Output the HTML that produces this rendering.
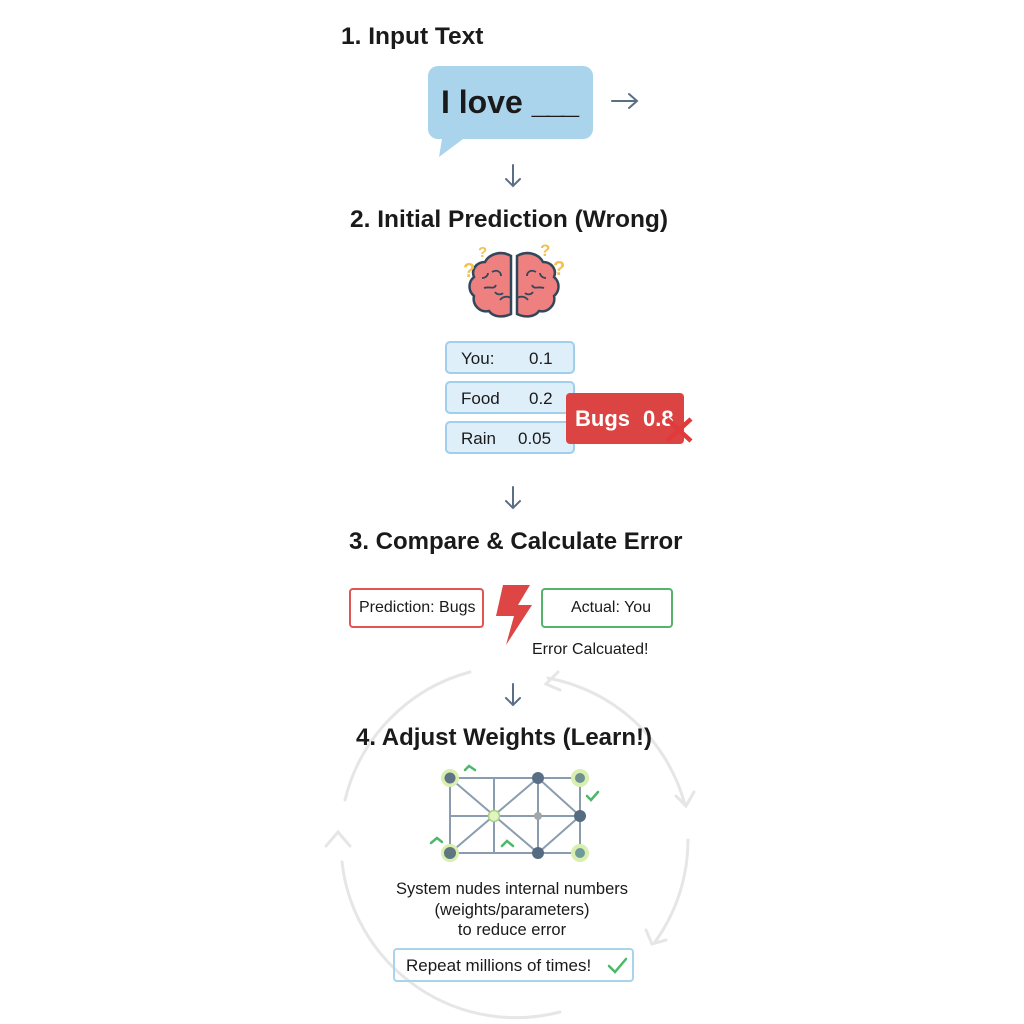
<!DOCTYPE html>
<html><head><meta charset="utf-8"><style>
body{margin:0;width:1024px;height:1024px;background:#fff;position:relative;font-family:"Liberation Sans",sans-serif;color:#1a1a1a;overflow:hidden}
.a{position:absolute}
.h{font-weight:bold;font-size:24.5px;white-space:nowrap}
.pb{position:absolute;left:445px;width:130px;height:33px;background:#deeffa;border:2px solid #9fcfec;border-radius:5px;box-sizing:border-box;font-size:17px}
.pb span{position:absolute;top:6px}
</style></head><body>
<svg class="a" style="left:0;top:0" width="1024" height="1024">
<g fill="none" stroke="#e6e6e6" stroke-width="3" stroke-linecap="round">
<path d="M470 672 A175 175 0 0 0 345 800"/>
<path d="M342 862 A175 175 0 0 0 560 1012"/>
<path d="M655 942 A175 175 0 0 0 688 840"/>
<path d="M685 805 A175 175 0 0 0 548 678"/>
<path d="M326 846 L338 832 L350 846"/>
<path d="M558 672 L546 684 L560 690"/>
<path d="M676 796 L686 806 L694 792"/>
<path d="M646 930 L652 944 L666 940"/>
</g>
<g fill="none" stroke="#5a6f85" stroke-width="2" stroke-linecap="round">
<path d="M612 101 H637 M629 94 L637 101 L629 108"/>
<path d="M513 165 V186 M506 179 L513 186 L520 179"/>
<path d="M513 487 V508 M506 501 L513 508 L520 501"/>
<path d="M513 684 V705 M506 698 L513 705 L520 698"/>
</g>
<path d="M438 66 h145 a10 10 0 0 1 10 10 v53 a10 10 0 0 1 -10 10 h-120 l-24 18 l3 -18 h-4 a10 10 0 0 1 -10 -10 v-53 a10 10 0 0 1 10 -10z" fill="#a9d4ec"/>
<g stroke="#33475b" stroke-width="2.5" fill="#ee8080">
<path d="M511 256 c-10 -6 -22 -2 -26 6 c-9 0 -14 8 -11 15 c-6 5 -6 14 0 19 c-2 9 6 17 15 15 c4 6 14 7 22 3z"/>
<path d="M517 256 c10 -6 22 -2 26 6 c9 0 14 8 11 15 c6 5 6 14 0 19 c2 9 -6 17 -15 15 c-4 6 -14 7 -22 3z"/>
</g>
<g stroke="#33475b" stroke-width="1.8" fill="none">
<path d="M492 272 c5 -3 9 0 9 4 M484 288 c6 -2 10 2 12 -3 M500 300 c3 -4 8 -4 11 -2 M536 272 c-5 -3 -9 0 -9 4 M544 288 c-6 -2 -10 2 -12 -3 M528 300 c-3 -4 -8 -4 -11 -2 M482 278 c4 0 6 -3 6 -5 M546 278 c-4 0 -6 -3 -6 -5 M495 292 c2 3 6 3 8 1 M533 292 c-2 3 -6 3 -8 1"/>
</g>
<g fill="#f2c14e" font-weight="bold" font-family="Liberation Sans">
<text x="463" y="277" font-size="20">?</text><text x="478" y="257" font-size="15">?</text>
<text x="540" y="256" font-size="17">?</text><text x="553" y="275" font-size="20">?</text>
</g>
<path d="M503 585 L530 585 L518 605 L532 605 L506 645 L514 616 L496 616z" fill="#de4545"/>
<g stroke="#8a9db0" stroke-width="2" fill="none">
<rect x="450" y="778" width="130" height="75"/>
<path d="M494 778 V853 M538 778 V853 M450 816 H580 M450 778 L538 853 M450 853 L538 778 M538 778 L580 816 L538 853"/>
</g>
<g>
<circle cx="450" cy="778" r="9" fill="#d8efb0"/><circle cx="580" cy="778" r="9" fill="#d8efb0"/>
<circle cx="450" cy="853" r="9" fill="#d8efb0"/><circle cx="580" cy="853" r="9" fill="#d8efb0"/>
<circle cx="450" cy="778" r="5.5" fill="#5f7585"/><circle cx="538" cy="778" r="6" fill="#5a6f85"/>
<circle cx="580" cy="778" r="5" fill="#6f9090"/><circle cx="494" cy="816" r="5.5" fill="#e0f5c0" stroke="#a8d080" stroke-width="1.5"/>
<circle cx="538" cy="816" r="4" fill="#a0a8a8"/><circle cx="580" cy="816" r="6" fill="#556b82"/>
<circle cx="450" cy="853" r="6" fill="#5f7580"/><circle cx="538" cy="853" r="6" fill="#556b82"/>
<circle cx="580" cy="853" r="5" fill="#6f9a9a"/>
</g>
<g stroke="#4cb86a" stroke-width="2.5" fill="none" stroke-linecap="round">
<path d="M465 770 l4 -4 l6 4"/><path d="M587 796 l4 4 l7 -8"/><path d="M431 843 l6 -5 l5 4"/><path d="M502 846 l5 -5 l6 5"/>
<path d="M609 966 l6 6 l11 -13"/>
</g>
</svg>
<div class="a h" style="left:341px;top:23px">1. Input Text</div>
<div class="a" style="left:441px;top:84px;font-size:32px;font-weight:bold;white-space:nowrap">I love <span style="letter-spacing:-3px">___</span></div>
<div class="a h" style="left:350px;top:206px">2. Initial Prediction (Wrong)</div>
<div class="pb" style="top:341px"><span style="left:14px">You:</span><span style="left:82px">0.1</span></div>
<div class="pb" style="top:381px"><span style="left:14px">Food</span><span style="left:82px">0.2</span></div>
<div class="pb" style="top:421px"><span style="left:14px">Rain</span><span style="left:71px">0.05</span></div>
<div class="a" style="left:566px;top:393px;width:118px;height:51px;background:#dc4444;border-radius:4px;color:#fff;font-weight:bold;font-size:22px"><span style="position:absolute;left:9px;top:13px">Bugs</span><span style="position:absolute;left:77px;top:13px">0.8</span></div>
<svg class="a" style="left:664px;top:416px" width="32" height="28"><path d="M3 3 l24 22 M27 3 l-24 22" stroke="#e03a3a" stroke-width="4.5"/></svg>
<div class="a h" style="left:349px;top:528px;font-size:24px">3. Compare &amp; Calculate Error</div>
<div class="a" style="left:349px;top:588px;width:135px;height:40px;border:2px solid #e05555;border-radius:4px;box-sizing:border-box;font-size:16px;padding:9px 0 0 8px">Prediction: Bugs</div>
<div class="a" style="left:541px;top:588px;width:132px;height:40px;border:2px solid #55b36a;border-radius:4px;box-sizing:border-box;font-size:16px;padding:9px 0 0 28px">Actual: You</div>
<div class="a" style="left:532px;top:641px;font-size:16px">Error Calcuated!</div>
<div class="a h" style="left:356px;top:724px;font-size:24px">4. Adjust Weights (Learn!)</div>
<div class="a" style="left:362px;top:879px;width:300px;text-align:center;font-size:16.5px;line-height:20.5px">System nudes internal numbers<br>(weights/parameters)<br>to reduce error</div>
<div class="a" style="left:393px;top:948px;width:241px;height:34px;border:2px solid #a8d4ec;border-radius:4px;box-sizing:border-box;font-size:17px;padding:6px 0 0 11px">Repeat millions of times!</div>
</body></html>
